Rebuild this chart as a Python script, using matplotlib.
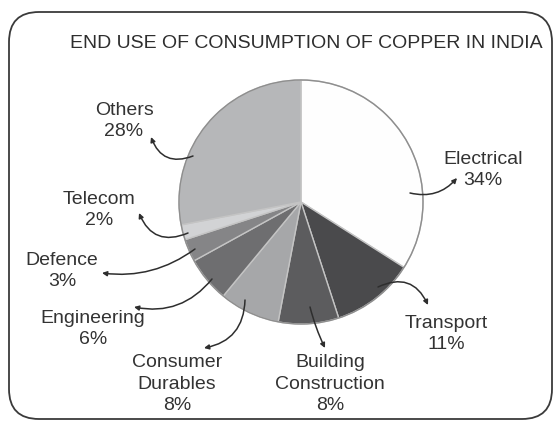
import matplotlib.pyplot as plt
from matplotlib.patches import FancyBboxPatch, Circle

# copper end use, percent
categories = ['Electrical', 'Transport', 'Building\nConstruction', 'Consumer\nDurables',
              'Engineering', 'Defence', 'Telecom', 'Others']
shares = [34, 11, 8, 8, 6, 3, 2, 28]
colors = ['#fefefe', '#4a4a4c', '#5c5c5e', '#a6a7a9', '#6e6e70', '#858587', '#d2d3d5', '#b6b7b9']

W, H = 560, 423


def iy(y):
    # image row -> data y (y axis points up)
    return H - y


fig = plt.figure(figsize=(W / 100, H / 100), dpi=100)
ax = fig.add_axes([0, 0, 1, 0.999999])
ax.set_xlim(0, W)
ax.set_ylim(0, H)
ax.axis('off')

# rounded frame
frame = FancyBboxPatch((9, iy(419)), 543, 407, boxstyle='round,pad=0,rounding_size=30',
                       fill=False, edgecolor='#3a3a3a', linewidth=1.3)
ax.add_patch(frame)

cx, cy, r = 301, iy(202), 122
ax.pie(shares, colors=colors, startangle=90, counterclock=False, center=(cx, cy), radius=r,
       frame=True, wedgeprops=dict(edgecolor='#c4c4c4', linewidth=1))
ax.add_patch(Circle((cx, cy), r, fill=False, edgecolor='#8e8e8e', linewidth=1))
ax.set_xlim(0, W)
ax.set_ylim(0, H)
ax.set_aspect('auto')
ax.axis('off')

ax.text(306, iy(43), 'END USE OF CONSUMPTION OF COPPER IN INDIA', ha='center', va='center',
        fontsize=14, family='Liberation Sans', color='#2e2e2e')

# label centres, arrow start (inside wedge), arrow end (near label), curvature
label_pos = [(483, 170), (446, 334), (330, 384), (177, 384), (93, 329), (62, 271), (99, 210), (124, 121)]
arrow_from = [(410, 193), (378, 287), (310, 307), (245, 300), (212, 279), (195, 249), (188, 233), (193, 156)]
arrow_to = [(457, 178), (428, 305), (325, 348), (204, 348), (134, 307), (102, 273), (139, 213), (151, 137)]
arrow_rad = [0.3, -0.5, 0.05, -0.4, -0.3, -0.2, -0.5, -0.5]

for name, val, (lx, ly), a, b, rad in zip(categories, shares, label_pos, arrow_from, arrow_to, arrow_rad):
    ax.text(lx, iy(ly), f'{name}\n{val}%', ha='center', va='center', fontsize=14,
            family='Liberation Sans', color='#333333', linespacing=1.35)
    ax.annotate('', xy=(b[0], iy(b[1])), xytext=(a[0], iy(a[1])),
                arrowprops=dict(arrowstyle='-|>', color='#2e2e2e', lw=1.1, mutation_scale=7,
                                shrinkA=0, shrinkB=0, connectionstyle=f'arc3,rad={rad}'))

fig.savefig('out.png', dpi=100)
